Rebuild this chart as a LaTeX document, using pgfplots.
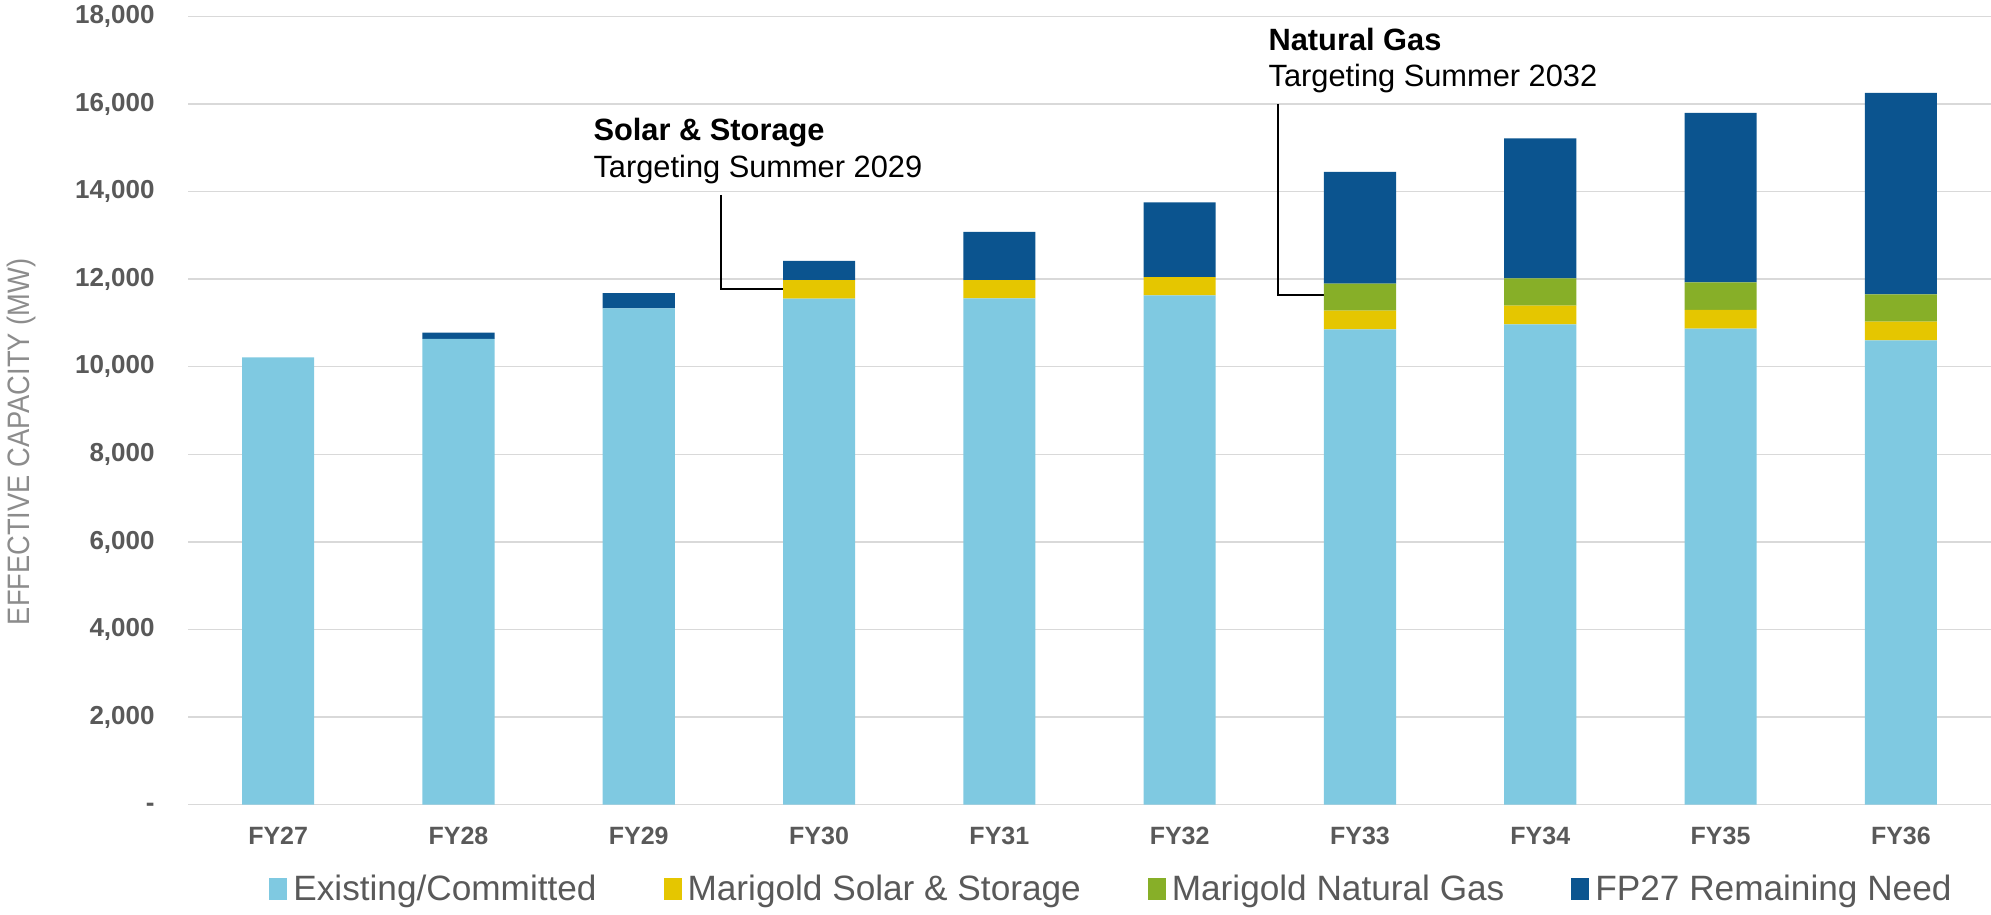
\documentclass[border=0pt]{standalone}
\usepackage{pgfplots}
\pgfplotsset{compat=1.18}
\usepackage{fontspec}
\setmainfont{Liberation Sans}
\newfontfamily\narrowfont[FakeStretch=0.88]{Liberation Sans}

\definecolor{existing}{HTML}{7FC9E1}
\definecolor{solar}{HTML}{E5C600}
\definecolor{gas}{HTML}{87AF28}
\definecolor{need}{HTML}{0B548F}
\definecolor{ticktext}{HTML}{595959}
\definecolor{axisgray}{HTML}{8C8C8C}
\definecolor{gridgray}{HTML}{D9D9D9}

\begin{document}
\begin{tikzpicture}
\begin{axis}[
  at={(94pt,55.15pt)}, anchor=south west,
  scale only axis, width=901.5pt, height=394.2pt,
  ybar stacked, bar width=0.4,
  xmin=-0.5, xmax=9.5, ymin=0, ymax=18000,
  xtick={0,...,9},
  xticklabels={FY27,FY28,FY29,FY30,FY31,FY32,FY33,FY34,FY35,FY36},
  ytick={0,2000,...,18000},
  yticklabels={{-\hspace{0.55em}},{2,000},{4,000},{6,000},{8,000},{10,000},{12,000},{14,000},{16,000},{18,000}},
  xticklabel style={font=\fontsize{12.5}{14}\selectfont\bfseries, text=ticktext, anchor=north, inner sep=0pt, yshift=-11pt},
  yticklabel style={font=\fontsize{13}{15}\selectfont\bfseries, text=ticktext, anchor=east, inner sep=0pt,
    text height=0.72em, text depth=0pt, xshift=-16.5pt},
  axis line style={draw=none}, tick style={draw=none},
  ymajorgrids, grid style={gridgray, line width=0.75pt},
  legend columns=4,
  legend style={at={(0.0449,-0.107)}, anchor=west, draw=none, fill=none,
    font=\fontsize{17.6}{20}\selectfont, text=ticktext, inner sep=0pt,
    /tikz/every even column/.append style={column sep=31.5pt},
    /tikz/every odd column/.append style={column sep=1pt}},
  legend image code/.code={\fill[#1] (0pt,-5.5pt) rectangle (9pt,5.5pt);},
]
% Existing/Committed
\addplot[fill=existing, draw=none] coordinates {
  (0,10213) (1,10635) (2,11331) (3,11555) (4,11559)
  (5,11627) (6,10852) (7,10966) (8,10867) (9,10601)};
% Marigold Solar & Storage
\addplot[fill=solar, draw=none] coordinates {
  (0,0) (1,0) (2,0) (3,422) (4,418)
  (5,419) (6,426) (7,426) (8,433) (9,426)};
% Marigold Natural Gas
\addplot[fill=gas, draw=none] coordinates {
  (0,0) (1,0) (2,0) (3,0) (4,0)
  (5,0) (6,616) (7,623) (8,624) (9,623)};
% FP27 Remaining Need
\addplot[fill=need, draw=none] coordinates {
  (0,0) (1,145) (2,350) (3,441) (4,1103)
  (5,1703) (6,2554) (7,3199) (8,3871) (9,4600)};
\legend{Existing/Committed, Marigold Solar \& Storage, Marigold Natural Gas, FP27 Remaining Need}

% callouts
\draw[black, line width=1pt] (axis cs:2.457,13920) |- (axis cs:2.851,11774);
\draw[black, line width=1pt] (axis cs:5.545,16000) |- (axis cs:5.917,11637);
\node[anchor=base west, inner sep=0pt, font=\fontsize{15.4}{18}\selectfont\bfseries] at (axis cs:1.747,15153) {Solar \& Storage};
\node[anchor=base west, inner sep=0pt, font=\fontsize{15.4}{18}\selectfont] at (axis cs:1.747,14327) {Targeting Summer 2029};
\node[anchor=base west, inner sep=0pt, font=\fontsize{15.4}{18}\selectfont\bfseries] at (axis cs:5.491,17230) {Natural Gas};
\node[anchor=base west, inner sep=0pt, font=\fontsize{15.4}{18}\selectfont] at (axis cs:5.491,16386) {Targeting Summer 2032};
\end{axis}
\node[rotate=90, inner sep=0pt, text=axisgray, font=\narrowfont\fontsize{15.5}{18}\selectfont] at (10.5pt,236.5pt) {EFFECTIVE CAPACITY (MW)};
\pgfresetboundingbox
\path (0,0) rectangle (995.5pt,457.5pt);
\end{tikzpicture}
\end{document}
